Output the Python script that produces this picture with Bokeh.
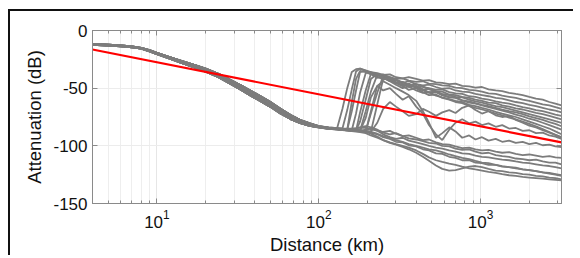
from bokeh.plotting import figure
from bokeh.models import Range1d, FixedTicker, LogAxis, LinearAxis
from bokeh.embed import file_html
from bokeh.resources import INLINE

# ---- near-field distances (km) and three close variants of the common decay
NEAR_D = [4, 5, 6, 7, 8, 9, 10, 12, 14, 17, 20, 24, 28, 33, 38, 44, 50, 58, 67, 77, 88]
NEAR_A = [-12.0, -12.6, -13.3, -14.2, -15.4, -17.6, -20.0, -23.8, -27.0, -30.9, -34.3,
          -39.0, -44.0, -49.5, -54.5, -59.5, -64.0, -70.0, -75.0, -79.0, -81.5]
NEAR_B = [-11.6, -12.2, -12.9, -13.8, -15.0, -17.0, -19.3, -23.0, -26.0, -29.8, -33.0,
          -37.5, -42.2, -47.5, -52.3, -57.2, -61.8, -67.8, -73.2, -77.6, -80.5]
NEAR_C = [-12.4, -13.0, -13.7, -14.6, -15.8, -18.1, -20.6, -24.5, -27.9, -32.0, -35.6,
          -40.5, -45.7, -51.4, -56.5, -61.6, -66.0, -72.0, -76.8, -80.4, -82.6]

# ---- far-field distances (km)
FAR_D = [100, 115, 130, 140, 150, 160, 170, 180, 195, 210,
         230, 250, 275, 300, 330, 360, 400, 440, 480, 530,
         580, 640, 700, 770, 850, 930, 1020, 1120, 1240, 1360,
         1500, 1650, 1820, 2000, 2200, 2420, 2660, 2900, 3162]

# ---- curves that jump up (upper band)
U1 = [-83.0, -84.0, -84.6, -68.0, -50.0, -36.0, -33.5, -33.0, -34.5, -36.0,
      -37.0, -38.5, -38.0, -40.5, -41.5, -40.5, -42.0, -43.5, -43.0, -45.0,
      -45.5, -46.5, -46.0, -48.0, -48.5, -49.5, -49.0, -51.0, -52.0, -52.5,
      -54.0, -55.0, -56.0, -57.5, -59.0, -60.0, -62.0, -63.5, -65.0]
U2 = [-83.5, -84.5, -85.0, -85.2, -69.0, -51.0, -35.5, -33.0, -35.0, -37.5,
      -39.0, -38.0, -40.5, -42.0, -41.5, -43.5, -44.5, -44.0, -46.0, -46.5,
      -47.5, -48.0, -49.5, -50.0, -51.5, -52.0, -53.0, -54.5, -55.0, -56.5,
      -57.5, -58.5, -60.0, -61.0, -62.5, -64.0, -65.0, -66.5, -68.0]
U3 = [-83.0, -84.3, -85.0, -85.5, -86.0, -70.0, -52.0, -36.0, -35.0, -36.5,
      -40.0, -42.5, -41.0, -43.0, -45.5, -44.0, -46.5, -47.5, -47.0, -49.0,
      -50.5, -50.0, -52.0, -53.0, -53.5, -55.0, -56.0, -57.0, -58.5, -59.0,
      -60.5, -62.0, -63.0, -64.5, -65.5, -67.0, -68.5, -69.5, -71.0]
U4 = [-83.8, -85.0, -85.6, -86.0, -86.3, -86.5, -72.0, -54.0, -37.0, -36.0,
      -38.5, -41.0, -44.0, -42.5, -45.0, -47.5, -46.5, -49.0, -50.0, -51.5,
      -51.0, -53.5, -54.5, -55.0, -57.0, -57.5, -59.0, -60.0, -61.5, -62.5,
      -63.5, -65.0, -66.5, -67.5, -69.0, -70.0, -71.5, -73.0, -74.0]
U5 = [-83.5, -84.8, -85.4, -85.8, -86.2, -86.5, -86.8, -71.0, -52.0, -37.5,
      -38.0, -40.0, -43.5, -46.0, -44.5, -47.0, -49.5, -48.5, -51.0, -52.5,
      -53.0, -55.5, -56.0, -57.5, -58.5, -60.0, -61.0, -62.5, -63.0, -65.0,
      -66.0, -67.5, -68.5, -70.0, -71.5, -72.5, -74.0, -75.5, -77.0]
U6 = [-83.0, -84.5, -85.2, -85.6, -86.0, -86.4, -86.7, -87.0, -70.0, -53.0,
      -38.5, -39.5, -42.0, -45.0, -48.0, -46.0, -49.0, -51.5, -50.5, -53.0,
      -55.0, -56.0, -57.5, -58.0, -60.0, -61.5, -62.5, -64.0, -65.5, -66.5,
      -68.0, -69.5, -71.0, -72.5, -74.0, -75.5, -77.0, -78.5, -80.0]
U7 = [-84.0, -85.2, -85.8, -86.2, -86.5, -86.8, -87.0, -87.2, -87.4, -72.0,
      -54.0, -39.5, -40.5, -43.0, -46.5, -49.0, -48.0, -51.0, -53.5, -53.0,
      -56.0, -57.5, -58.0, -60.5, -61.5, -63.0, -64.5, -65.5, -67.0, -68.5,
      -70.0, -71.0, -72.5, -74.5, -76.0, -77.5, -79.5, -81.0, -83.0]
U8 = [-83.8, -84.8, -85.4, -85.8, -86.0, -62.0, -42.0, -35.0, -36.0, -38.0,
      -41.0, -40.0, -43.0, -45.5, -48.0, -47.0, -49.5, -52.0, -54.0, -53.5,
      -56.0, -58.0, -58.5, -60.5, -62.5, -63.5, -65.0, -66.5, -68.0, -69.5,
      -71.0, -73.0, -74.5, -76.5, -78.0, -80.0, -82.0, -84.0, -86.0]
U9 = [-83.2, -84.6, -85.2, -85.6, -86.0, -86.3, -86.6, -79.0, -60.0, -42.0,
      -37.5, -41.0, -44.0, -47.0, -50.0, -48.5, -52.0, -54.0, -53.5, -56.5,
      -58.0, -59.5, -61.0, -62.0, -64.5, -65.5, -67.0, -68.5, -70.5, -72.0,
      -73.5, -75.0, -77.0, -79.0, -81.0, -83.0, -85.0, -87.5, -90.0]
U10 = [-83.6, -85.0, -85.6, -86.0, -86.4, -86.8, -87.0, -87.3, -87.5, -87.7,
       -64.0, -42.0, -41.0, -45.0, -48.0, -51.5, -50.0, -53.5, -56.0, -55.5,
       -58.5, -60.0, -62.0, -63.0, -65.5, -67.0, -68.5, -70.0, -72.0, -73.5,
       -75.5, -77.0, -79.0, -81.0, -83.0, -85.5, -88.0, -90.5, -93.0]

# ---- wavy intermediate curves
W1 = [-83.4, -84.8, -85.5, -85.9, -86.2, -86.6, -86.9, -87.2, -87.5, -87.8,
      -80.0, -68.0, -62.0, -66.0, -70.0, -74.0, -72.5, -68.0, -70.5, -74.0,
      -71.0, -69.0, -71.5, -67.0, -65.0, -69.0, -72.0, -70.0, -73.5, -75.0,
      -74.0, -77.5, -80.0, -82.5, -84.0, -86.5, -88.5, -90.5, -92.5]
W2 = [-83.8, -85.0, -85.7, -86.1, -86.5, -86.8, -87.1, -87.4, -87.6, -70.0,
      -48.0, -44.0, -47.0, -50.0, -53.0, -56.0, -61.0, -70.0, -80.0, -93.0,
      -89.0, -84.0, -87.5, -93.0, -91.0, -94.5, -92.5, -95.5, -94.0, -96.5,
      -95.5, -97.5, -96.5, -98.5, -97.5, -99.5, -99.0, -100.5, -101.0]
W3 = [-83.2, -84.5, -85.1, -85.5, -85.9, -86.2, -86.5, -86.8, -76.0, -58.0,
      -48.0, -52.0, -50.0, -55.0, -60.0, -57.0, -66.0, -72.0, -82.0, -90.0,
      -95.0, -86.0, -80.0, -77.0, -80.5, -79.0, -82.0, -80.5, -83.5, -82.0,
      -85.0, -84.5, -87.0, -86.5, -89.0, -88.5, -91.0, -92.0, -94.0]

# ---- curves that stay low (lower band)
L1 = [-83.5, -84.4, -84.9, -85.1, -85.2, -85.0, -84.6, -84.2, -84.5, -85.5,
      -86.5, -88.0, -87.0, -89.5, -91.5, -91.0, -93.0, -95.0, -94.5, -97.0,
      -98.5, -99.0, -100.5, -102.0, -101.5, -103.0, -104.0, -103.5, -105.0, -106.0,
      -105.5, -107.0, -108.0, -107.5, -108.5, -109.5, -109.0, -110.0, -110.5]
L2 = [-83.0, -84.0, -84.6, -85.0, -85.3, -85.4, -85.2, -84.0, -83.0, -84.0,
      -86.0, -88.5, -90.0, -89.0, -91.5, -93.5, -94.5, -96.0, -97.5, -98.0,
      -100.0, -100.5, -102.5, -103.5, -103.0, -105.0, -106.5, -106.0, -108.0, -109.0,
      -109.5, -111.0, -111.5, -112.5, -112.0, -113.5, -114.5, -114.5, -116.0]
L3 = [-84.0, -85.0, -85.6, -86.0, -86.3, -86.6, -86.8, -87.0, -86.0, -85.0,
      -87.0, -90.0, -92.5, -94.0, -93.0, -95.5, -97.0, -98.5, -100.0, -101.5,
      -102.5, -104.0, -105.0, -106.5, -107.0, -108.5, -109.5, -110.0, -111.0, -112.0,
      -112.5, -113.5, -114.5, -115.0, -116.0, -117.0, -117.5, -118.5, -119.5]
L4 = [-83.6, -84.7, -85.3, -85.7, -86.0, -86.3, -86.6, -86.9, -87.5, -88.5,
      -90.0, -92.5, -94.0, -96.5, -97.0, -99.5, -100.5, -103.0, -104.0, -106.5,
      -107.0, -109.5, -110.5, -112.5, -112.5, -114.5, -115.0, -116.5, -116.5, -118.0,
      -118.5, -119.5, -120.5, -121.0, -122.0, -123.0, -123.5, -124.5, -125.5]
L5 = [-84.0, -85.2, -85.8, -86.2, -86.6, -86.9, -87.2, -87.5, -88.0, -89.5,
      -92.0, -95.0, -97.5, -99.0, -101.0, -103.0, -106.0, -109.5, -113.0, -117.0,
      -120.0, -121.5, -121.0, -119.5, -118.0, -117.5, -118.5, -120.0, -121.5, -122.0,
      -123.0, -123.5, -124.5, -125.0, -126.0, -126.5, -127.5, -128.0, -129.0]
L6 = [-83.3, -84.3, -84.8, -85.2, -85.5, -85.8, -86.0, -86.3, -87.0, -88.0,
      -89.5, -91.5, -93.5, -95.0, -96.5, -98.5, -100.0, -101.5, -103.0, -104.0,
      -105.5, -107.5, -109.0, -110.5, -111.5, -113.0, -114.5, -115.0, -116.5, -117.5,
      -118.5, -119.0, -120.5, -121.0, -122.0, -123.0, -124.0, -125.0, -126.0]
L7 = [-84.2, -85.3, -86.0, -86.4, -86.8, -87.2, -87.6, -88.0, -89.0, -91.0,
      -93.0, -95.0, -97.0, -98.5, -100.0, -101.5, -104.0, -107.0, -110.0, -112.5,
      -114.0, -115.5, -116.5, -118.0, -119.5, -120.5, -121.5, -122.5, -123.5, -124.5,
      -125.5, -126.0, -127.0, -127.5, -128.0, -128.5, -129.0, -129.5, -130.0]

# ---- reference (red) trend line
RED_D = [4, 3162]
RED_DB = [-16.5, -97.0]

Y_TICKS = [-150, -100, -50, 0]
Y_TICK_LABELS = ["-150", "-100", "-50", "0"]

CURVES = [
    (NEAR_B, U1), (NEAR_A, U2), (NEAR_B, U3), (NEAR_C, U4), (NEAR_A, U5),
    (NEAR_B, U6), (NEAR_C, U7), (NEAR_C, U8), (NEAR_B, U9), (NEAR_A, U10),
    (NEAR_A, W1), (NEAR_C, W2), (NEAR_B, W3),
    (NEAR_A, L1), (NEAR_B, L2), (NEAR_C, L3), (NEAR_A, L4), (NEAR_C, L5),
    (NEAR_B, L6), (NEAR_C, L7),
]

FONT = "Liberation Sans"
AXC = "#8a8a8a"

p = figure(width=565, height=246, x_axis_type="log",
           x_range=Range1d(4, 3162), y_range=Range1d(-150, 0),
           output_backend="svg", toolbar_location=None,
           min_border_left=82, min_border_top=19, min_border_right=14,
           min_border_bottom=54, background_fill_color="white",
           border_fill_color="white")
p.styles = {"border-left": "2px solid #111", "border-top": "2px solid #111",
            "margin-left": "8px", "margin-top": "9px"}

for near, far in CURVES:
    assert len(far) == len(FAR_D)
    p.line(NEAR_D + FAR_D, near + far, line_color="#7c7c7c", line_width=1.8)

p.line(RED_D, RED_DB, line_color="#ff0000", line_width=2.2)

p.outline_line_color = AXC
p.outline_line_width = 1

xa = p.xaxis[0]
ya = p.yaxis[0]
xa.axis_label = "Distance (km)"
ya.axis_label = "Attenuation (dB)"
ya.ticker = FixedTicker(ticks=Y_TICKS)
ya.major_label_overrides = {t: lab for t, lab in zip(Y_TICKS, Y_TICK_LABELS)}
for ax in (xa, ya):
    ax.axis_label_text_font = FONT
    ax.axis_label_text_font_size = "18.5px"
    ax.axis_label_text_font_style = "normal"
    ax.axis_label_text_color = "#111111"
    ax.major_label_text_font = FONT
    ax.major_label_text_font_size = "17px"
    ax.major_label_text_color = "#111111"
    ax.axis_line_color = AXC
    ax.major_tick_line_color = AXC
    ax.minor_tick_line_color = AXC
    ax.major_tick_in = 5
    ax.major_tick_out = 0
    ax.minor_tick_in = 3
    ax.minor_tick_out = 0
xa.major_label_standoff = 6
xa.axis_label_standoff = 3
ya.major_label_standoff = 5
ya.axis_label_standoff = 5

top = LogAxis(ticker=xa.ticker, major_label_text_font_size="1px",
              major_label_text_alpha=0,
              axis_line_color=AXC, major_tick_line_color=AXC,
              minor_tick_line_color=AXC, major_tick_in=5, major_tick_out=0,
              minor_tick_in=3, minor_tick_out=0, major_label_standoff=0)
p.add_layout(top, "above")
right = LinearAxis(ticker=FixedTicker(ticks=Y_TICKS), major_label_text_font_size="1px",
                   major_label_text_alpha=0,
                   axis_line_color=AXC, major_tick_line_color=AXC,
                   major_tick_in=5, major_tick_out=0, major_label_standoff=0)
p.add_layout(right, "right")

p.xgrid.grid_line_color = "#e6e6e6"
p.xgrid.minor_grid_line_color = "#eeeeee"
p.ygrid.grid_line_color = "#ececec"

open("out.html", "w").write(file_html(p, INLINE))
